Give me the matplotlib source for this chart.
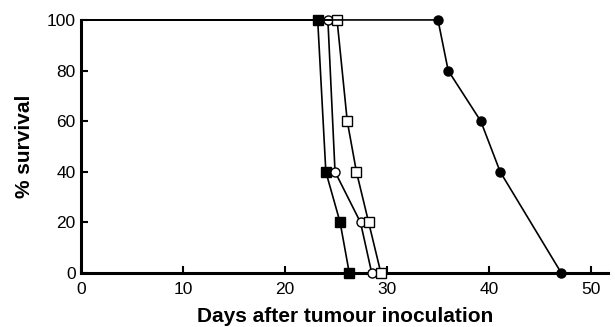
import matplotlib
matplotlib.use("Agg")
import matplotlib.pyplot as plt

plt.rcParams['font.family'] = ['Liberation Sans', 'DejaVu Sans']

# survival curves: days and % survival
filled_sq_days = [0, 23.2, 24.0, 25.4, 26.3]
filled_sq_surv = [100, 100, 40, 20, 0]

open_circ_days = [0, 24.2, 24.9, 27.4, 28.5]
open_circ_surv = [100, 100, 40, 20, 0]

open_sq_days = [0, 25.1, 26.1, 27.0, 28.2, 29.4]
open_sq_surv = [100, 100, 60, 40, 20, 0]

filled_circ_days = [0, 35.0, 36.0, 39.2, 41.1, 47.1]
filled_circ_surv = [100, 100, 80, 60, 40, 0]

xticks = [0, 10, 20, 30, 40, 50]
yticks = [0, 20, 40, 60, 80, 100]

fig = plt.figure(figsize=(6.15, 3.27), dpi=100)
ax = fig.add_axes([0.132, 0.165, 0.857, 0.774])

common = dict(color='black', lw=1.2, clip_on=False, zorder=5, markeredgewidth=1.0)
# markers only on data points (skip the day-0 start)
ax.plot(filled_sq_days, filled_sq_surv, marker='s', ms=6.5, mfc='black', markevery=list(range(1, len(filled_sq_days))), **common)
ax.plot(open_circ_days, open_circ_surv, marker='o', ms=6.5, mfc='white', markevery=list(range(1, len(open_circ_days))), **common)
ax.plot(open_sq_days, open_sq_surv, marker='s', ms=6.5, mfc='white', markevery=list(range(1, len(open_sq_days))), **common)
ax.plot(filled_circ_days, filled_circ_surv, marker='o', ms=6.5, mfc='black', markevery=list(range(1, len(filled_circ_days))), **common)

ax.set_xlim(0, 51.7)
ax.set_ylim(0, 100)
ax.set_xticks(xticks)
ax.set_yticks(yticks)

for s in ['top', 'right']:
	ax.spines[s].set_visible(False)
for s in ['left', 'bottom']:
	ax.spines[s].set_linewidth(2.2)

ax.tick_params(direction='in', length=5, width=1.5, labelsize=12.5)
ax.tick_params(axis='x', pad=6.5)
ax.tick_params(axis='y', pad=4)
ax.set_xlabel("Days after tumour inoculation", fontsize=15, fontweight='bold', labelpad=7)
ax.set_ylabel("% survival", fontsize=15, fontweight='bold', labelpad=9)

fig.savefig("out.png", dpi=100)
